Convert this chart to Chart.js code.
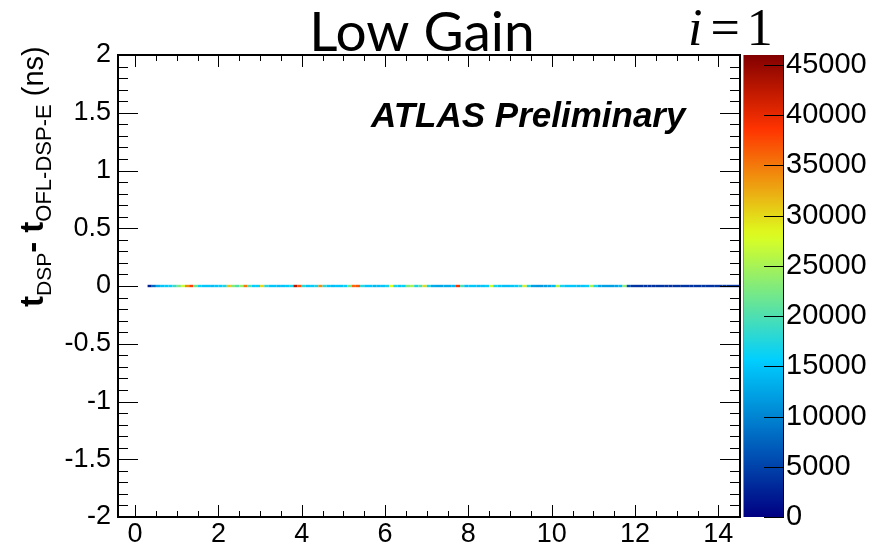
<!DOCTYPE html>
<html>
<head>
<meta charset="utf-8">
<script src="https://cdn.jsdelivr.net/npm/chart.js@4.4.1/dist/chart.umd.min.js"></script>
<style>
  html, body { margin: 0; padding: 0; background: #ffffff; }
  canvas { display: block; }
</style>
</head>
<body>
<canvas id="c" width="883" height="549"></canvas>
<script>
// Histogram row at t_DSP - t_OFL = 0: lower edge of first bin, bin width, entries per bin
const binLow = 0.3;
const binWidth = 0.1;
const counts = [
  2500, 8000, 13000, 15000, 15500, 16000, 19000, 23000, 27000, 34000,
  38000, 22000, 16000, 15000, 15000, 14500, 15000, 15500, 17000, 31000,
  23000, 20000, 24000, 35000, 20000, 15500, 16000, 30000, 18000, 15000,
  15000, 14500, 15000, 15500, 17000, 43000, 37000, 18000, 15000, 15500,
  17000, 34000, 18000, 15000, 14500, 15000, 15000, 16000, 22000, 36000,
  37000, 18000, 15000, 15000, 14000, 14500, 15000, 17000, 28000, 17000,
  15000, 16000, 23000, 25000, 17000, 20000, 30000, 17000, 13000, 12500,
  12500, 13000, 13000, 14000, 39000, 20000, 14500, 15000, 15000, 14500,
  15000, 16000, 27000, 17000, 15000, 14500, 14500, 15000, 15500, 18000,
  29000, 17000, 12000, 11500, 11500, 12000, 12500, 14000, 26000, 17000,
  15000, 15000, 15000, 14500, 15000, 16000, 25000, 17000, 12500, 12000,
  12000, 12000, 12500, 14000, 24000, 6000, 4000, 3800, 3800, 3900,
  3800, 3700, 3800, 3900, 3800, 3700, 3800, 3800, 3900, 3800,
  3700, 3800, 3800, 3900, 3800, 3700, 3800, 3800, 3900, 3800,
  3800, 3700
];

// Axis ranges and labelled ticks
const xRange = [-0.41, 14.52];
const yRange = [-2, 2];
const zMax = 46000;
const xTicks = [0, 2, 4, 6, 8, 10, 12, 14];
const yTicks = [-2, -1.5, -1, -0.5, 0, 0.5, 1, 1.5, 2];
const zTicks = [0, 5000, 10000, 15000, 20000, 25000, 30000, 35000, 40000, 45000];

// Rainbow colour table (navy -> cyan -> yellow -> red -> dark red)
const palStops = [0.00, 0.34, 0.61, 0.84, 1.00];
const palR = [0.00, 0.00, 0.87, 1.00, 0.51];
const palG = [0.00, 0.81, 1.00, 0.20, 0.00];
const palB = [0.51, 1.00, 0.12, 0.00, 0.00];

function paletteColor(t) {
  t = Math.max(0, Math.min(1, t));
  let i = 0;
  while (i < palStops.length - 2 && t > palStops[i + 1]) i++;
  const f = (t - palStops[i]) / (palStops[i + 1] - palStops[i]);
  const mix = (a) => Math.round(255 * (a[i] + (a[i + 1] - a[i]) * f));
  return `rgb(${mix(palR)},${mix(palG)},${mix(palB)})`;
}

const edges = counts.map((_, i) => +(binLow + i * binWidth).toFixed(2));
edges.push(+(binLow + counts.length * binWidth).toFixed(2));

const FONT = '"Liberation Sans", Arial, Helvetica, sans-serif';
const SERIF = '"Liberation Serif", "Times New Roman", serif';

// Frame with inward ticks on all four sides
const framePlugin = {
  id: 'frame',
  afterDatasetsDraw(chart) {
    const { ctx, chartArea: a, scales } = chart;
    const xs = scales.x, ys = scales.y;
    ctx.save();
    ctx.strokeStyle = '#000';
    ctx.lineWidth = 1;
    ctx.beginPath();
    // x ticks: majors every 2, minors every 0.5
    for (let v = -0.5; v <= xRange[1] + 1e-9; v += 0.5) {
      if (v < xRange[0]) continue;
      const px = Math.round(xs.getPixelForValue(v)) + 0.5;
      const major = Math.abs(v / 2 - Math.round(v / 2)) < 1e-6;
      const len = major ? 12 : 6;
      ctx.moveTo(px, a.bottom); ctx.lineTo(px, a.bottom - len);
      ctx.moveTo(px, a.top); ctx.lineTo(px, a.top + len);
    }
    // y ticks: majors every 0.5, minors every 0.1
    for (let k = -20; k <= 20; k++) {
      const v = k / 10;
      const py = Math.round(ys.getPixelForValue(v)) + 0.5;
      const major = k % 5 === 0;
      const len = major ? 20 : 10;
      ctx.moveTo(a.left, py); ctx.lineTo(a.left + len, py);
      ctx.moveTo(a.right, py); ctx.lineTo(a.right - len, py);
    }
    ctx.stroke();
    ctx.lineWidth = 2;
    ctx.strokeRect(a.left, a.top, a.right - a.left, a.bottom - a.top);
    ctx.restore();
  }
};

// Colour bar drawn against the z scale
const colorBarPlugin = {
  id: 'colorBar',
  afterDraw(chart) {
    const { ctx, chartArea: a } = chart;
    const zs = chart.scales.z;
    const x0 = a.right + 3, x1 = a.right + 44;
    const yTop = zs.getPixelForValue(zMax), yBot = zs.getPixelForValue(0);
    ctx.save();
    const g = ctx.createLinearGradient(0, yBot, 0, yTop);
    for (let k = 0; k <= 50; k++) g.addColorStop(k / 50, paletteColor(k / 50));
    ctx.fillStyle = g;
    ctx.fillRect(x0, yTop, x1 - x0, yBot - yTop);
    ctx.strokeStyle = '#8a8a8a';
    ctx.lineWidth = 1;
    ctx.beginPath();
    ctx.moveTo(x0 + 0.5, yTop); ctx.lineTo(x0 + 0.5, yBot);
    ctx.stroke();
    ctx.strokeStyle = '#000';
    ctx.beginPath();
    zTicks.forEach(v => {
      const py = Math.round(zs.getPixelForValue(v)) + 0.5;
      ctx.moveTo(x1, py); ctx.lineTo(x1 - 20, py);
    });
    ctx.moveTo(x1 - 0.5, yTop); ctx.lineTo(x1 - 0.5, yBot);
    ctx.stroke();
    ctx.restore();
  }
};

// Titles, preliminary tag and rich y-axis title
const textPlugin = {
  id: 'texts',
  afterDraw(chart) {
    const { ctx } = chart;
    ctx.save();
    ctx.fillStyle = '#000';
    ctx.textBaseline = 'alphabetic';

    ctx.font = '55px Lato, "Open Sans", sans-serif';
    ctx.textAlign = 'center';
    ctx.fillText('Low Gain', 422, 51);

    ctx.textAlign = 'left';
    let x = 688;
    ctx.font = 'italic 52px ' + SERIF;
    ctx.fillText('i', x, 45);
    x += ctx.measureText('i').width + 8;
    ctx.font = '52px ' + SERIF;
    ctx.fillText('=', x, 45);
    x += ctx.measureText('=').width + 7;
    ctx.fillText('1', x, 45);

    ctx.font = 'bold italic 35px ' + FONT;
    ctx.fillText('ATLAS Preliminary', 371, 127);

    // rotated axis title with subscripts
    ctx.translate(43, 307);
    ctx.rotate(-Math.PI / 2);
    const pieces = [
      { t: 't', f: 'bold 33px ' + FONT, dy: 0 },
      { t: 'DSP', f: '21px ' + FONT, dy: 8 },
      { t: '- ', f: 'bold 33px ' + FONT, dy: 0 },
      { t: 't', f: 'bold 33px ' + FONT, dy: 0 },
      { t: 'OFL-DSP-E', f: '22px ' + FONT, dy: 8 },
      { t: ' (ns)', f: '29px ' + FONT, dy: 0 }
    ];
    let px = 0;
    pieces.forEach(p => {
      ctx.font = p.f;
      ctx.fillText(p.t, px, p.dy);
      px += ctx.measureText(p.t).width;
    });
    ctx.restore();
  }
};

// Vertical scales must not reserve room for half-labels at their ends
const noEndPadding = s => {
  s.paddingTop = 0; s.paddingBottom = 0; s.paddingLeft = 0; s.paddingRight = 0;
};

new Chart(document.getElementById('c'), {
  type: 'line',
  data: {
    datasets: [{
      data: edges.map(x => ({ x: x, y: 0 })),
      borderWidth: 2.4,
      borderCapStyle: 'butt',
      pointRadius: 0,
      tension: 0,
      fill: false,
      borderColor: paletteColor(counts[0] / zMax),
      segment: {
        borderColor: c => paletteColor(counts[c.p0DataIndex] / zMax)
      }
    }]
  },
  options: {
    responsive: false,
    animation: false,
    devicePixelRatio: 1,
    layout: { padding: { top: 55, left: 0, right: 0, bottom: 0 } },
    plugins: { legend: { display: false }, tooltip: { enabled: false }, title: { display: false } },
    scales: {
      x: {
        type: 'linear', min: xRange[0], max: xRange[1],
        afterBuildTicks: s => { s.ticks = xTicks.map(v => ({ value: v })); },
        afterFit: s => { s.height = 32; noEndPadding(s); },
        grid: { display: false, drawTicks: false },
        border: { display: false },
        ticks: { color: '#000', font: { family: FONT, size: 27 }, padding: 1, maxRotation: 0, autoSkip: false, callback: v => String(v) }
      },
      y: {
        type: 'linear', min: yRange[0], max: yRange[1],
        afterBuildTicks: s => { s.ticks = yTicks.map(v => ({ value: v })); },
        afterFit: s => { s.width = 118; noEndPadding(s); },
        grid: { display: false, drawTicks: false },
        border: { display: false },
        ticks: { color: '#000', font: { family: FONT, size: 27 }, padding: 7, autoSkip: false, callback: v => String(v) }
      },
      z: {
        axis: 'y', position: 'right', type: 'linear', min: 0, max: zMax,
        afterBuildTicks: s => { s.ticks = zTicks.map(v => ({ value: v })); },
        afterFit: s => { s.width = 143; noEndPadding(s); },
        grid: { display: false, drawTicks: false },
        border: { display: false },
        ticks: { color: '#000', font: { family: FONT, size: 29 }, padding: 46, autoSkip: false, callback: v => String(v) }
      }
    }
  },
  plugins: [framePlugin, colorBarPlugin, textPlugin]
});
</script>
</body>
</html>
